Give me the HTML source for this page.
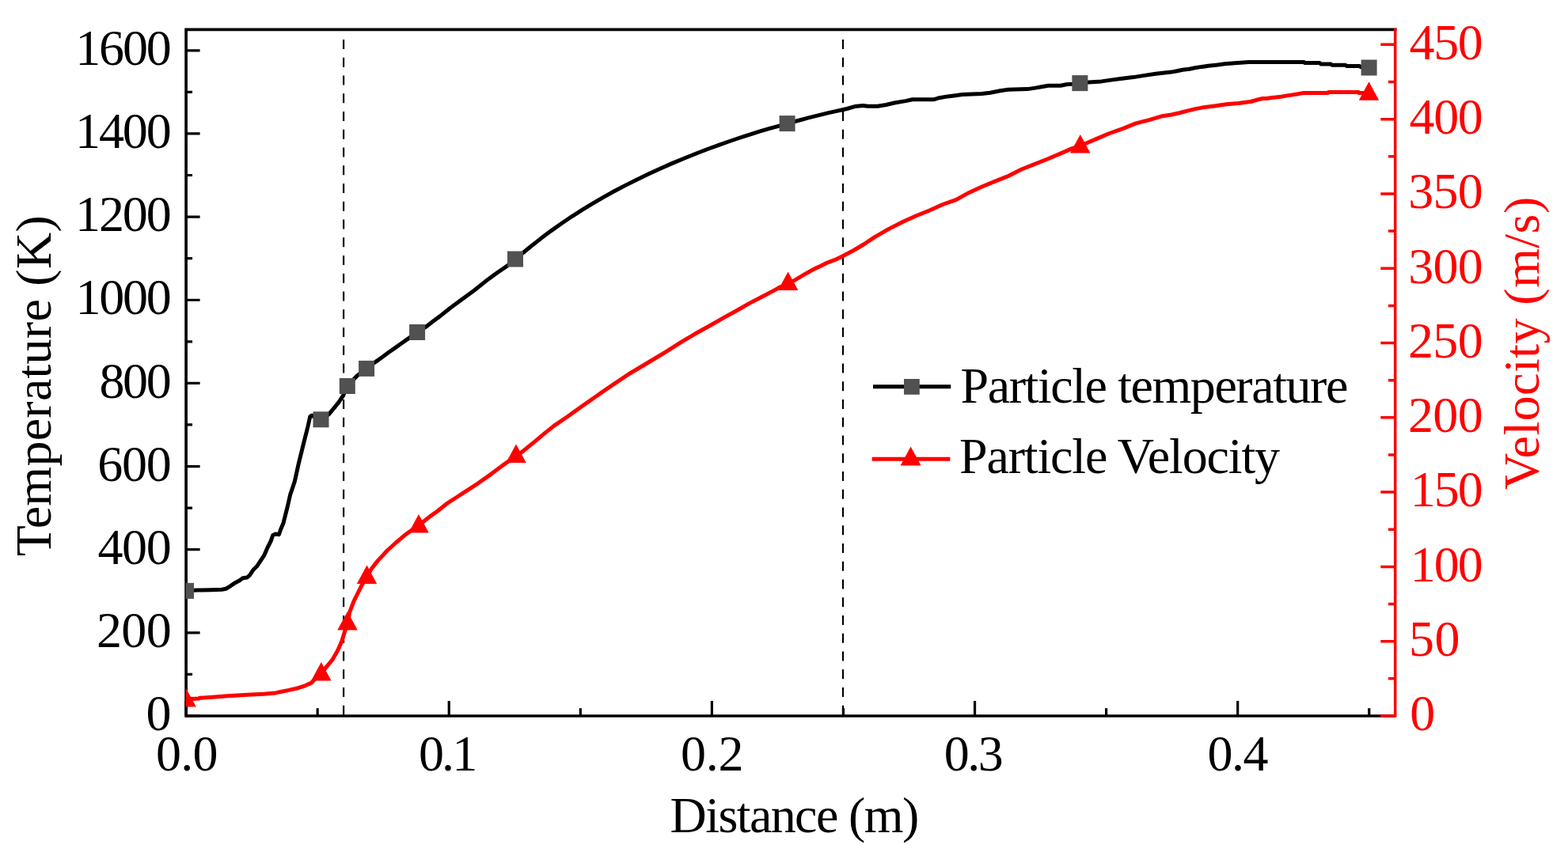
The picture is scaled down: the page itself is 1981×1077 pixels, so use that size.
<!DOCTYPE html>
<html><head><meta charset="utf-8"><title>Particle temperature and velocity vs distance</title>
<style>html,body{margin:0;padding:0;background:#fff;}svg{display:block;}</style></head>
<body>
<svg width="1981" height="1077" viewBox="0 0 1981 1077">
<rect width="1981" height="1077" fill="#fff"/>
<defs><clipPath id="pc"><rect x="234.6" y="37" width="1527" height="868"/></clipPath></defs>

<g stroke="#000" stroke-width="2.2" stroke-dasharray="12 10.75" fill="none">
<path d="M434.1,49.9 V905"/><path d="M1065,49.9 V905"/>
</g>
<path d="M235.1,905.0 V37.4 H1762.7" fill="none" stroke="#000" stroke-width="3.7" stroke-linecap="square"/>
<path d="M235.1,905.0 H1762.7" fill="none" stroke="#000" stroke-width="3.7"/>
<path d="M235.1,905.00 h17.5 M235.1,852.42 h7.9 M235.1,799.85 h17.5 M235.1,747.27 h7.9 M235.1,694.70 h17.5 M235.1,642.12 h7.9 M235.1,589.55 h17.5 M235.1,536.97 h7.9 M235.1,484.39 h17.5 M235.1,431.82 h7.9 M235.1,379.24 h17.5 M235.1,326.67 h7.9 M235.1,274.09 h17.5 M235.1,221.52 h7.9 M235.1,168.94 h17.5 M235.1,116.36 h7.9 M235.1,63.79 h17.5 " stroke="#000" stroke-width="3.2"/>
<path d="M235.10,905.0 v-19.1 M401.18,905.0 v-9.8 M567.25,905.0 v-19.1 M733.33,905.0 v-9.8 M899.40,905.0 v-19.1 M1065.47,905.0 v-9.8 M1231.55,905.0 v-19.1 M1397.62,905.0 v-9.8 M1563.70,905.0 v-19.1 M1729.77,905.0 v-9.8 " stroke="#000" stroke-width="3.2"/>
<path d="M1762.7,35.7 V906.7 M1762.7,905.00 h-18.4 M1762.7,857.85 h-8.7 M1762.7,810.71 h-18.4 M1762.7,763.56 h-8.7 M1762.7,716.41 h-18.4 M1762.7,669.27 h-8.7 M1762.7,622.12 h-18.4 M1762.7,574.97 h-8.7 M1762.7,527.83 h-18.4 M1762.7,480.68 h-8.7 M1762.7,433.53 h-18.4 M1762.7,386.39 h-8.7 M1762.7,339.24 h-18.4 M1762.7,292.09 h-8.7 M1762.7,244.95 h-18.4 M1762.7,197.80 h-8.7 M1762.7,150.65 h-18.4 M1762.7,103.51 h-8.7 M1762.7,56.36 h-18.4 " stroke="#f00" stroke-width="3.5"/>
<g clip-path="url(#pc)">
<path d="M235.0,746.9 L244.5,746.3 L248.6,746.1 L266.2,745.8 L280.0,745.3 L285.6,744.2 L291.1,740.8 L296.7,736.9 L302.3,734.1 L306.7,730.8 L312.3,730.0 L315.7,726.9 L320.1,720.2 L324.6,715.8 L329.0,709.1 L333.5,702.4 L337.9,692.4 L342.4,683.5 L344.6,676.8 L348.0,675.1 L352.4,675.7 L354.7,669.0 L358.0,661.2 L360.2,652.3 L363.0,641.5 L366.7,625.3 L372.3,608.6 L377.2,586.4 L382.0,566.9 L385.5,552.9 L389.0,539.0 L391.8,526.5 L393.9,525.0 L396.5,526.8 L405.5,530.3 L415.5,523.7 L422.4,515.3 L428.0,508.4 L433.6,500.0 L438.8,488.0 L450.9,475.2 L463.1,465.9 L474.2,457.6 L482.5,451.8 L490.9,445.5 L499.3,439.6 L507.6,433.8 L516.0,427.9 L527.1,420.0 L537.7,413.4 L548.6,405.0 L555.0,400.4 L569.6,388.7 L584.2,378.0 L598.9,367.3 L613.5,355.6 L628.1,344.8 L640.8,336.1 L651.0,327.5 L661.2,319.3 L670.0,312.0 L683.2,301.6 L696.5,291.6 L709.7,282.3 L723.0,273.3 L736.2,264.9 L749.4,256.9 L762.7,249.1 L775.9,241.8 L790.0,234.4 L804.8,226.9 L819.7,219.8 L834.5,213.0 L849.4,206.4 L864.2,200.2 L879.1,194.2 L893.9,188.5 L910.2,182.6 L920.4,179.0 L930.6,175.5 L940.9,172.1 L951.1,168.8 L961.3,165.7 L971.5,162.7 L981.7,159.8 L994.7,156.4 L1004.3,153.5 L1020.5,149.2 L1045.7,142.9 L1070.0,137.5 L1079.9,134.6 L1090.5,133.6 L1096.1,134.3 L1108.9,134.3 L1119.5,132.5 L1130.1,130.0 L1144.2,127.6 L1152.7,125.8 L1179.5,125.8 L1186.6,123.7 L1197.2,121.9 L1207.1,120.7 L1215.5,119.6 L1240.3,118.6 L1250.9,117.2 L1263.6,114.7 L1273.5,113.3 L1298.2,112.6 L1308.1,111.1 L1315.9,109.7 L1324.4,108.3 L1340.0,108.2 L1347.1,106.7 L1354.1,106.3 L1364.4,105.2 L1375.3,103.9 L1391.6,102.9 L1403.6,101.1 L1417.7,99.3 L1431.9,97.6 L1446.0,95.4 L1460.1,93.3 L1480.0,91.1 L1487.1,89.7 L1494.1,88.3 L1502.6,87.2 L1509.7,85.8 L1518.2,84.4 L1526.6,83.3 L1538.7,81.9 L1547.1,80.8 L1559.9,79.8 L1577.5,78.4 L1647.5,78.4 L1648.2,79.5 L1667.2,79.5 L1668.7,80.9 L1681.4,80.9 L1682.8,82.3 L1699.8,82.3 L1701.2,83.4 L1717.4,83.4 L1719.5,84.8 L1729.6,85.5" fill="none" stroke="#000" stroke-width="5" stroke-linejoin="round"/>
<path d="M235.0,884.3 L242.5,883.4 L251.6,883.0 L252.1,882.3 L268.4,881.2 L287.5,879.7 L313.4,878.3 L333.6,877.3 L348.0,875.9 L354.7,874.5 L366.2,872.1 L376.7,869.7 L385.4,866.8 L393.1,863.4 L397.9,858.6 L401.7,854.8 L405.8,852.0 L411.7,843.8 L420.1,833.8 L426.8,822.1 L431.8,810.4 L436.0,797.0 L439.0,788.3 L441.8,773.6 L446.9,760.2 L451.9,750.2 L456.9,740.2 L461.9,731.8 L463.5,729.8 L468.6,720.1 L473.6,713.4 L477.5,708.6 L489.2,696.0 L500.1,686.0 L510.1,677.6 L516.8,672.6 L529.0,664.0 L535.2,659.3 L543.5,652.6 L551.9,646.7 L564.4,636.7 L578.6,627.5 L586.0,622.7 L602.7,611.8 L619.4,600.1 L636.1,587.6 L644.0,582.0 L652.0,577.0 L660.5,570.5 L675.1,558.6 L687.6,548.1 L700.1,538.1 L716.8,526.8 L733.5,514.7 L750.3,503.0 L767.0,491.3 L772.5,487.7 L793.4,473.5 L810.1,463.5 L826.8,453.5 L843.5,443.4 L860.3,432.6 L878.5,421.8 L896.7,411.8 L913.4,402.2 L930.1,393.0 L946.8,383.4 L963.5,374.7 L980.3,365.9 L985.3,363.0 L995.7,358.6 L1003.4,354.7 L1011.7,349.7 L1020.1,344.7 L1028.4,340.1 L1036.8,336.3 L1045.1,332.1 L1055.0,328.4 L1065.2,323.5 L1079.4,316.0 L1091.9,308.5 L1104.4,300.1 L1122.0,289.9 L1140.9,280.2 L1157.6,272.7 L1174.3,266.0 L1191.0,258.5 L1207.7,252.6 L1224.4,243.4 L1240.0,236.2 L1256.7,229.4 L1273.4,222.7 L1290.1,214.3 L1306.8,207.6 L1323.5,201.0 L1340.3,193.9 L1352.8,188.4 L1364.8,184.0 L1372.5,181.0 L1385.1,175.6 L1401.8,168.5 L1418.5,162.6 L1435.2,155.9 L1451.9,151.7 L1468.6,146.7 L1480.0,145.0 L1489.1,143.0 L1498.2,140.6 L1510.3,137.6 L1522.4,135.4 L1534.5,133.9 L1549.7,131.8 L1564.8,130.6 L1579.9,128.5 L1589.0,126.0 L1595.1,124.5 L1600.0,124.6 L1607.1,123.6 L1616.3,122.6 L1624.7,121.1 L1631.1,120.1 L1638.5,119.0 L1645.9,117.6 L1677.7,117.6 L1678.4,116.6 L1716.6,116.6 L1717.0,117.6 L1729.5,117.6" fill="none" stroke="#f00" stroke-width="5" stroke-linejoin="round"/>
<g fill="#515151"><rect x="225.0" y="736.9" width="20" height="20"/><rect x="395.5" y="520.3" width="20" height="20"/><rect x="428.8" y="478.0" width="20" height="20"/><rect x="453.1" y="455.9" width="20" height="20"/><rect x="517.1" y="410.0" width="20" height="20"/><rect x="641.0" y="317.5" width="20" height="20"/><rect x="984.6" y="146.1" width="20" height="20"/><rect x="1354.4" y="95.1" width="20" height="20"/><rect x="1719.6" y="75.5" width="20" height="20"/></g>
<g fill="#f00"><path d="M235.0,870.1 L247.8,893.6 L222.2,893.6 Z"/><path d="M405.8,837.0 L418.6,860.5 L393.1,860.5 Z"/><path d="M439.0,773.0 L451.8,796.5 L426.2,796.5 Z"/><path d="M463.5,714.5 L476.2,738.0 L450.8,738.0 Z"/><path d="M529.0,650.0 L541.8,673.5 L516.2,673.5 Z"/><path d="M652.0,561.6 L664.8,585.1 L639.2,585.1 Z"/><path d="M995.6,343.6 L1008.4,367.1 L982.9,367.1 Z"/><path d="M1364.8,170.1 L1377.5,193.6 L1352.0,193.6 Z"/><path d="M1729.5,103.3 L1742.2,126.8 L1716.8,126.8 Z"/></g>
</g>
<g font-family="Liberation Serif, Times New Roman, serif" font-size="64"><text x="184.5" y="923.2" fill="#000" textLength="32.2">0</text>
<text x="122.0" y="818.0" fill="#000" textLength="94.7">200</text>
<text x="123.5" y="712.9" fill="#000" textLength="93.2">400</text>
<text x="123.3" y="607.7" fill="#000" textLength="93.4">600</text>
<text x="125.5" y="502.6" fill="#000" textLength="91.2">800</text>
<text x="95.5" y="397.4" fill="#000" textLength="121.2">1000</text>
<text x="95.0" y="292.3" fill="#000" textLength="121.7">1200</text>
<text x="95.0" y="187.1" fill="#000" textLength="121.7">1400</text>
<text x="95.3" y="82.0" fill="#000" textLength="121.4">1600</text>
<text x="196.9" y="973.5" fill="#000" textLength="78.5">0.0</text>
<text x="528.9" y="973.5" fill="#000" textLength="74.3">0.1</text>
<text x="860.1" y="973.5" fill="#000" textLength="79.5">0.2</text>
<text x="1192.8" y="973.5" fill="#000" textLength="74.9">0.3</text>
<text x="1525.5" y="973.5" fill="#000" textLength="76.9">0.4</text>
<text x="1781.3" y="923.3" fill="#f00" textLength="31.8">0</text>
<text x="1779.9" y="829.0" fill="#f00" textLength="64.6">50</text>
<text x="1781.8" y="734.7" fill="#f00" textLength="91.9">100</text>
<text x="1781.8" y="640.4" fill="#f00" textLength="91.9">150</text>
<text x="1778.9" y="546.1" fill="#f00" textLength="94.8">200</text>
<text x="1778.9" y="451.8" fill="#f00" textLength="94.8">250</text>
<text x="1779.3" y="357.5" fill="#f00" textLength="94.4">300</text>
<text x="1779.3" y="263.2" fill="#f00" textLength="94.4">350</text>
<text x="1780.6" y="169.0" fill="#f00" textLength="93.1">400</text>
<text x="1780.6" y="74.7" fill="#f00" textLength="93.1">450</text>
<text x="846.6" y="1052.2" fill="#000" textLength="314.7">Distance (m)</text>
<text x="1213.6" y="508.8" fill="#000" textLength="489.8">Particle temperature</text>
<text x="1212.0" y="597.9" fill="#000" textLength="405.0">Particle Velocity</text>
<text transform="translate(63.5,703.2) rotate(-90)" fill="#000" textLength="430.9">Temperature (K)</text>
<text transform="translate(1943.5,619.0) rotate(-90)" fill="#f00" textLength="370.3">Velocity (m/s)</text></g>
<path d="M1103,488.7 H1201.3" stroke="#000" stroke-width="5"/>
<rect x="1142" y="479" width="19.8" height="19.8" fill="#515151"/>
<path d="M1101.7,580.2 H1200.4" stroke="#f00" stroke-width="5"/>
<g fill="#f00"><path d="M1150.6,564.5 L1163.6,588.5 L1137.6,588.5 Z"/></g>
</svg>
</body></html>
